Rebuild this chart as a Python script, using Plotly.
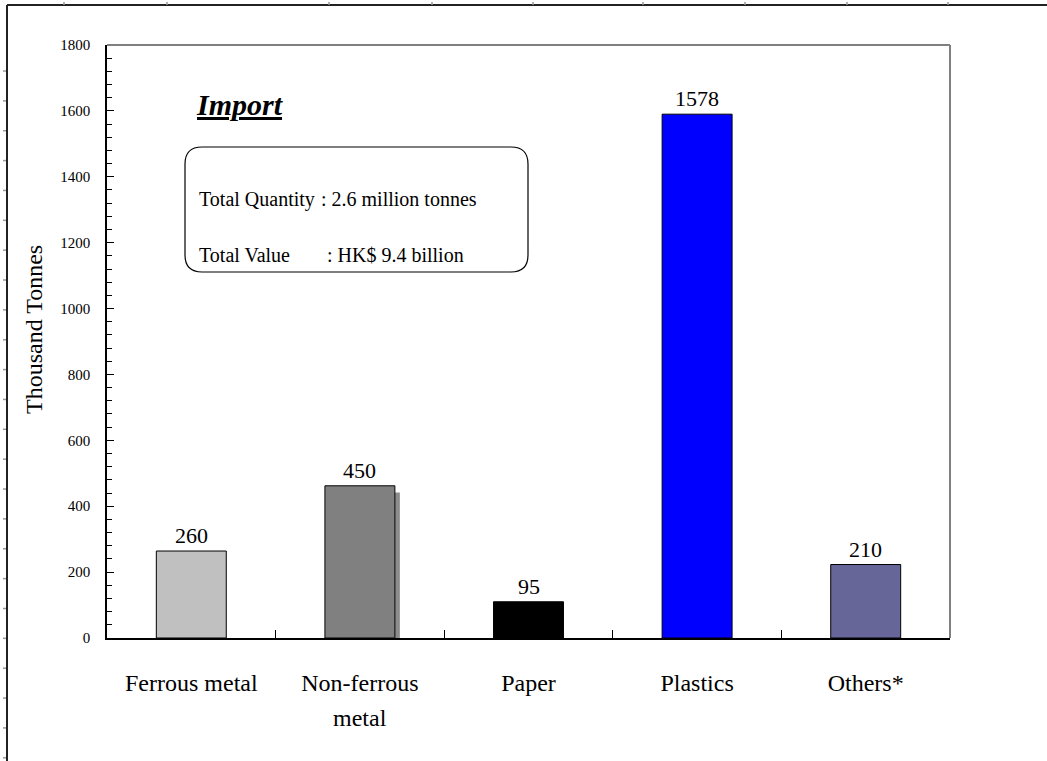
import plotly.graph_objects as go

# ---- data ----
categories = ["Ferrous metal", "Non-ferrous metal", "Paper", "Plastics", "Others*"]
label_line1 = ["Ferrous metal", "Non-ferrous", "Paper", "Plastics", "Others*"]
label_line2 = ["", "metal", "", "", ""]
bar_heights = [264, 462, 110, 1590, 223]      # bar tops as drawn in the picture
value_labels = ["260", "450", "95", "1578", "210"]  # printed data labels
bar_colors = ["#C0C0C0", "#808080", "#000000", "#0000FF", "#666699"]
y_ticks = [0, 200, 400, 600, 800, 1000, 1200, 1400, 1600, 1800]

title_text = "Import"
info_labels = ["Total Quantity", "Total Value"]
info_values = [": 2.6 million tonnes", ": HK$ 9.4 billion"]
y_title = "Thousand Tonnes"

# ---- layout geometry (pixels) ----
W, H = 1047, 761
L, R, T, B = 107, 950, 45, 638
FONT = "Liberation Serif, Times New Roman, serif"


def px(x):
    return (x - L) / (R - L)


def py(y):
    return (B - y) / (B - T)


fig = go.Figure()
fig.add_trace(go.Bar(
    x=categories, y=bar_heights,
    marker=dict(color=bar_colors, line=dict(color="#000000", width=1)),
    width=0.415, hoverinfo="x+y",
))

annotations = []
# value labels
for c, v, t in zip(categories, bar_heights, value_labels):
    annotations.append(dict(x=c, y=v, xref="x", yref="y", text=t,
                            showarrow=False, yanchor="bottom", yshift=1,
                            font=dict(family=FONT, size=22, color="#000")))
# second line of category labels
for c, t in zip(categories, label_line2):
    if t:
        annotations.append(dict(x=c, y=py(718), xref="x", yref="paper", text=t,
                                showarrow=False, yanchor="middle",
                                font=dict(family=FONT, size=24, color="#000")))
# Import title
annotations.append(dict(x=px(194), y=py(104), xref="paper", yref="paper",
                        text="<b><i><u>%s</u></i></b>" % title_text, showarrow=False,
                        xanchor="left", yanchor="middle",
                        font=dict(family=FONT, size=30, color="#000")))
# info box text
for i, (lab, val) in enumerate(zip(info_labels, info_values)):
    yy = [199, 255][i]
    annotations.append(dict(x=px(197), y=py(yy), xref="paper", yref="paper", text=lab,
                            showarrow=False, xanchor="left", yanchor="middle",
                            font=dict(family=FONT, size=20, color="#000")))
    annotations.append(dict(x=px([319, 325][i]), y=py(yy), xref="paper", yref="paper", text=val,
                            showarrow=False, xanchor="left", yanchor="middle",
                            font=dict(family=FONT, size=20, color="#000")))
# y-axis title
annotations.append(dict(x=px(34), y=py(330), xref="paper", yref="paper", text=y_title,
                        textangle=-90, showarrow=False, xanchor="center", yanchor="middle",
                        font=dict(family=FONT, size=24, color="#000")))

shapes = []
# small gray strip beside the non-ferrous bar (rendering artefact in original)
shapes.append(dict(type="rect", xref="x", yref="y", x0=1.2075, x1=1.237,
                   y0=0, y1=bar_heights[1] - 20, fillcolor="#8c8c8c",
                   line=dict(width=0), layer="below"))
# rounded info box
x0, x1, y0, y1, r = 185, 528, 147, 272, 17
pts = ("M {a},{b} L {c},{b} Q {d},{b} {d},{e} L {d},{f} Q {d},{g} {c},{g} "
       "L {a},{g} Q {h},{g} {h},{f} L {h},{e} Q {h},{b} {a},{b} Z").format(
    a=px(x0 + r), b=py(y0), c=px(x1 - r), d=px(x1), e=py(y0 + r),
    f=py(y1 - r), g=py(y1), h=px(x0))
shapes.append(dict(type="path", path=pts, xref="paper", yref="paper",
                   line=dict(color="#000", width=1.2), fillcolor="rgba(0,0,0,0)"))
# plot frame top/right (gray)
shapes.append(dict(type="line", xref="paper", yref="paper", x0=0, x1=1, y0=1, y1=1,
                   line=dict(color="#808080", width=2)))
shapes.append(dict(type="line", xref="paper", yref="paper", x0=1, x1=1, y0=0, y1=1,
                   line=dict(color="#808080", width=2)))
# outer document frame
shapes.append(dict(type="line", xref="paper", yref="paper", x0=px(7), x1=px(7),
                   y0=py(5), y1=py(H + 5), line=dict(color="#222", width=2)))
shapes.append(dict(type="line", xref="paper", yref="paper", x0=px(7), x1=px(W + 5),
                   y0=py(5), y1=py(5), line=dict(color="#222", width=2)))
for tx in [64, 167, 329, 432, 533, 643, 745, 847, 948]:
    shapes.append(dict(type="line", xref="paper", yref="paper", x0=px(tx), x1=px(tx),
                       y0=py(2), y1=py(5), line=dict(color="#999", width=1.5)))
k = 0
while 71 + k * 29.86 < H:
    ty = 71 + k * 29.86
    shapes.append(dict(type="line", xref="paper", yref="paper", x0=px(3), x1=px(6),
                       y0=py(ty), y1=py(ty), line=dict(color="#999", width=1.5)))
    k += 1

fig.update_layout(
    width=W, height=H,
    margin=dict(l=L, r=W - R, t=T, b=H - B, pad=0),
    paper_bgcolor="white", plot_bgcolor="white",
    showlegend=False,
    font=dict(family=FONT, color="#000"),
    annotations=annotations, shapes=shapes,
    xaxis=dict(type="category", showline=True, linecolor="#000", linewidth=1.5,
               ticks="inside", ticklen=8, tickcolor="#000", tickson="boundaries",
               tickvals=categories, ticktext=label_line1, ticklabelstandoff=22,
               tickfont=dict(family=FONT, size=24, color="#000"),
               showgrid=False, zeroline=False, range=[-0.5, 4.5], fixedrange=True),
    yaxis=dict(range=[0, 1800], tickvals=y_ticks, showline=True, linecolor="#000",
               linewidth=1.5, ticks="inside", ticklen=7, tickcolor="#000",
               minor=dict(ticks="inside", ticklen=5, dtick=40, tickcolor="#000", showgrid=False),
               ticklabelstandoff=12, tickfont=dict(family=FONT, size=15, color="#000"),
               showgrid=False, zeroline=False, fixedrange=True),
)

fig.write_html("out.html")
